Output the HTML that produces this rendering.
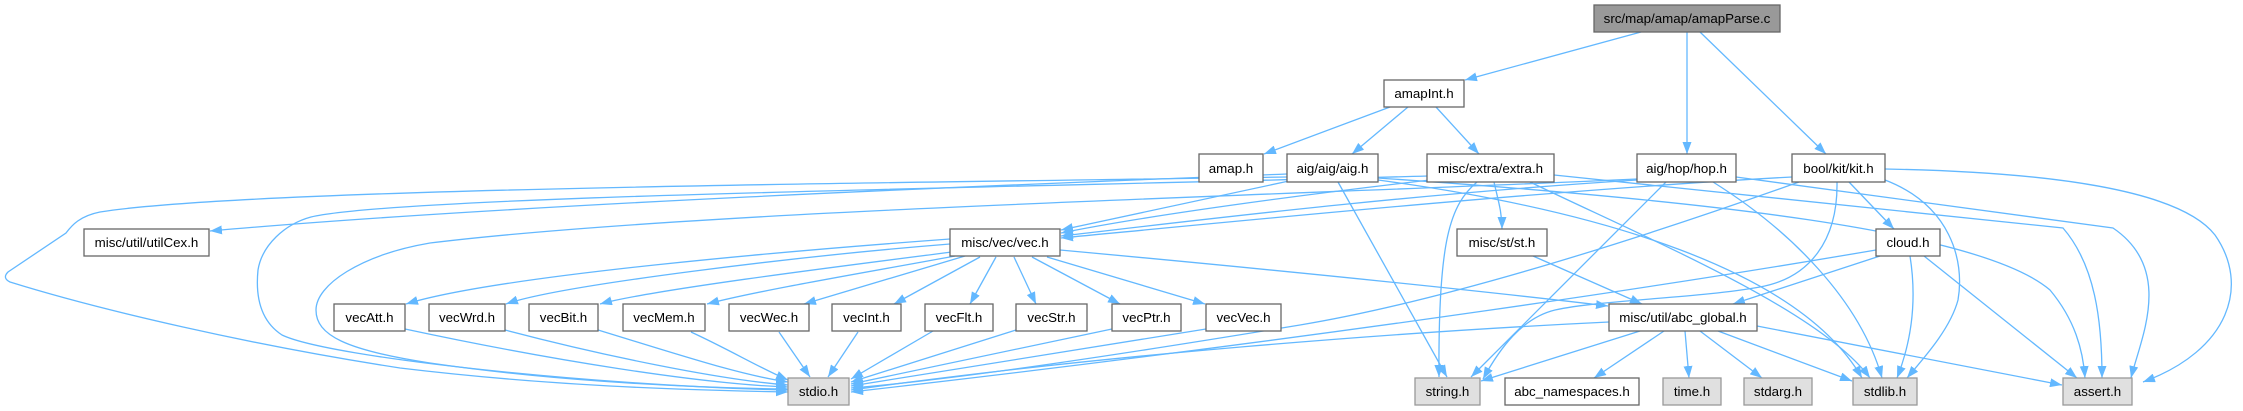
<!DOCTYPE html>
<html><head><meta charset="utf-8"><style>
html,body{margin:0;padding:0;background:#fff;}
svg{display:block;}
text{font-family:"Liberation Sans",Arial,sans-serif;font-size:13.33px;fill:#000;text-anchor:middle;}
.e{fill:none;stroke:#63b8ff;stroke-width:1.3;marker-end:url(#a);}
.n{fill:#fff;stroke:#666;stroke-width:1.3;}
.g{fill:#e0e0e0;stroke:#999;stroke-width:1.3;}
.r{fill:#999;stroke:#666;stroke-width:1.3;}
</style></head><body>
<svg width="2243" height="411" viewBox="0 0 2243 411" xmlns="http://www.w3.org/2000/svg">
<defs><marker id="a" markerWidth="12" markerHeight="9" refX="12" refY="4.5" orient="auto" markerUnits="userSpaceOnUse"><path d="M0,0 L12,4.5 L0,9 z" fill="#63b8ff"/></marker></defs>
<g>
<path class="e" d="M1641,32 L1465,80"/>
<path class="e" d="M1687,32 L1687,154"/>
<path class="e" d="M1700,32 L1826,154"/>
<path class="e" d="M1390,107 L1264,154"/>
<path class="e" d="M1408,107 L1352,154"/>
<path class="e" d="M1436,107 L1479,154"/>
<path class="e" d="M1287,174 C1000,185 500,205 210,231"/>
<path class="e" d="M1289,181 L1061,230"/>
<path class="e" d="M1287,177 C900,183 250,188 100,212 C80,216 72,225 66,233 L8,272 Q2,278 10,282 C100,310 250,345 400,368 C550,386 680,390 788,392"/>
<path class="e" d="M1428,176 C1000,188 400,196 311,217 C285,224 262,245 258,270 C255,300 262,322 282,335 C330,358 600,386 788,390"/>
<path class="e" d="M1637,179 C1300,195 700,210 430,243 C360,255 316,285 316,310 C316,335 345,350 430,363 C560,382 700,388 788,389"/>
<path class="e" d="M1430,180 C1300,195 1150,215 1061,233"/>
<path class="e" d="M1637,180 C1400,195 1200,220 1061,236"/>
<path class="e" d="M1792,177 C1550,190 1250,220 1061,238"/>
<path class="e" d="M1799,182 C1650,235 1450,300 1300,325 C1100,358 950,380 851,388"/>
<path class="e" d="M1837,182 C1838,240 1810,278 1760,287 C1700,298 1600,300 1555,310 C1522,318 1500,348 1483,379"/>
<path class="e" d="M1666,182 L1471,377"/>
<path class="e" d="M1477,182 C1450,205 1438,240 1439,377"/>
<path class="e" d="M1338,182 L1447,377"/>
<path class="e" d="M1640,331 L1481,381"/>
<path class="e" d="M1664,331 L1594,378"/>
<path class="e" d="M1685,331 L1689,378"/>
<path class="e" d="M1700,331 L1762,378"/>
<path class="e" d="M1718,331 L1852,381"/>
<path class="e" d="M1757,326 L2062,385"/>
<path class="e" d="M1609,322 C1400,332 1100,355 851,390"/>
<path class="e" d="M1876,250 C1700,280 1350,335 851,392"/>
<path class="e" d="M1910,256 C1917,300 1912,340 1897,378"/>
<path class="e" d="M1924,256 L2077,378"/>
<path class="e" d="M1880,256 L1733,304"/>
<path class="e" d="M1849,182 L1894,229"/>
<path class="e" d="M1885,180 C1950,205 1965,260 1958,300 C1950,330 1922,360 1907,378"/>
<path class="e" d="M1885,169 C2050,172 2180,190 2215,235 C2250,285 2230,350 2143,382"/>
<path class="e" d="M1736,177 L2113,228 C2175,270 2140,340 2131,378"/>
<path class="e" d="M1554,175 L2063,228 C2095,265 2102,320 2102,378"/>
<path class="e" d="M1378,178 C1700,200 1980,230 2050,290 C2075,320 2083,350 2085,378"/>
<path class="e" d="M1378,180 C1600,210 1800,270 1862,378"/>
<path class="e" d="M1530,182 C1650,240 1820,310 1870,378"/>
<path class="e" d="M1713,182 C1790,230 1860,300 1882,378"/>
<path class="e" d="M1494,182 C1498,200 1502,212 1502,229"/>
<path class="e" d="M1533,256 L1642,304"/>
<path class="e" d="M1060,250 C1300,272 1500,293 1608,306"/>
<path class="e" d="M950,239 C800,250 500,275 406,304"/>
<path class="e" d="M950,244 C800,256 560,285 506,304"/>
<path class="e" d="M952,252 C850,265 650,290 600,304"/>
<path class="e" d="M955,256 C880,270 760,290 707,304"/>
<path class="e" d="M965,256 L804,304"/>
<path class="e" d="M980,257 L894,304"/>
<path class="e" d="M996,257 L970,304"/>
<path class="e" d="M1014,257 L1036,304"/>
<path class="e" d="M1032,257 L1120,304"/>
<path class="e" d="M1047,257 L1205,304"/>
<path class="e" d="M405,329 C550,360 700,384 788,387"/>
<path class="e" d="M505,330 C600,355 720,380 788,385"/>
<path class="e" d="M598,330 C680,355 740,375 788,382"/>
<path class="e" d="M691,332 C730,350 760,368 788,380"/>
<path class="e" d="M779,332 L810,377"/>
<path class="e" d="M858,332 L828,377"/>
<path class="e" d="M933,331 L851,379"/>
<path class="e" d="M1016,330 L851,382"/>
<path class="e" d="M1112,329 L851,384"/>
<path class="e" d="M1206,329 L851,386"/>
</g>
<g>
<rect class="r" x="1594" y="5" width="186" height="27"/><text x="1687" y="23">src/map/amap/amapParse.c</text>
<rect class="n" x="1384" y="80" width="80" height="27"/><text x="1424" y="98">amapInt.h</text>
<rect class="n" x="1199" y="154" width="64" height="28"/><text x="1231" y="173">amap.h</text>
<rect class="n" x="1287" y="154" width="91" height="28"/><text x="1332.5" y="173">aig/aig/aig.h</text>
<rect class="n" x="1427" y="154" width="127" height="28"/><text x="1490.5" y="173">misc/extra/extra.h</text>
<rect class="n" x="1637" y="154" width="99" height="28"/><text x="1686.5" y="173">aig/hop/hop.h</text>
<rect class="n" x="1792" y="154" width="93" height="28"/><text x="1838.5" y="173">bool/kit/kit.h</text>
<rect class="n" x="84" y="229" width="125" height="27"/><text x="146.5" y="247">misc/util/utilCex.h</text>
<rect class="n" x="950" y="229" width="110" height="27"/><text x="1005" y="247">misc/vec/vec.h</text>
<rect class="n" x="1457" y="229" width="90" height="27"/><text x="1502" y="247">misc/st/st.h</text>
<rect class="n" x="1876" y="229" width="64" height="27"/><text x="1908" y="247">cloud.h</text>
<rect class="n" x="334" y="304" width="71" height="27"/><text x="369.5" y="322">vecAtt.h</text>
<rect class="n" x="429" y="304" width="76" height="27"/><text x="467" y="322">vecWrd.h</text>
<rect class="n" x="529" y="304" width="69" height="27"/><text x="563.5" y="322">vecBit.h</text>
<rect class="n" x="623" y="304" width="82" height="27"/><text x="664" y="322">vecMem.h</text>
<rect class="n" x="729" y="304" width="80" height="27"/><text x="769" y="322">vecWec.h</text>
<rect class="n" x="832" y="304" width="69" height="27"/><text x="866.5" y="322">vecInt.h</text>
<rect class="n" x="925" y="304" width="68" height="27"/><text x="959" y="322">vecFlt.h</text>
<rect class="n" x="1016" y="304" width="71" height="27"/><text x="1051.5" y="322">vecStr.h</text>
<rect class="n" x="1112" y="304" width="69" height="27"/><text x="1146.5" y="322">vecPtr.h</text>
<rect class="n" x="1206" y="304" width="75" height="27"/><text x="1243.5" y="322">vecVec.h</text>
<rect class="n" x="1609" y="304" width="148" height="27"/><text x="1683" y="322">misc/util/abc_global.h</text>
<rect class="g" x="788" y="378" width="61" height="27"/><text x="818.5" y="396">stdio.h</text>
<rect class="g" x="1415" y="378" width="65" height="27"/><text x="1447.5" y="396">string.h</text>
<rect class="n" x="1505" y="378" width="134" height="27"/><text x="1572" y="396">abc_namespaces.h</text>
<rect class="g" x="1663" y="378" width="58" height="27"/><text x="1692" y="396">time.h</text>
<rect class="g" x="1744" y="378" width="68" height="27"/><text x="1778" y="396">stdarg.h</text>
<rect class="g" x="1853" y="378" width="64" height="27"/><text x="1885" y="396">stdlib.h</text>
<rect class="g" x="2063" y="378" width="69" height="27"/><text x="2097.5" y="396">assert.h</text>
</g>
</svg>
</body></html>
